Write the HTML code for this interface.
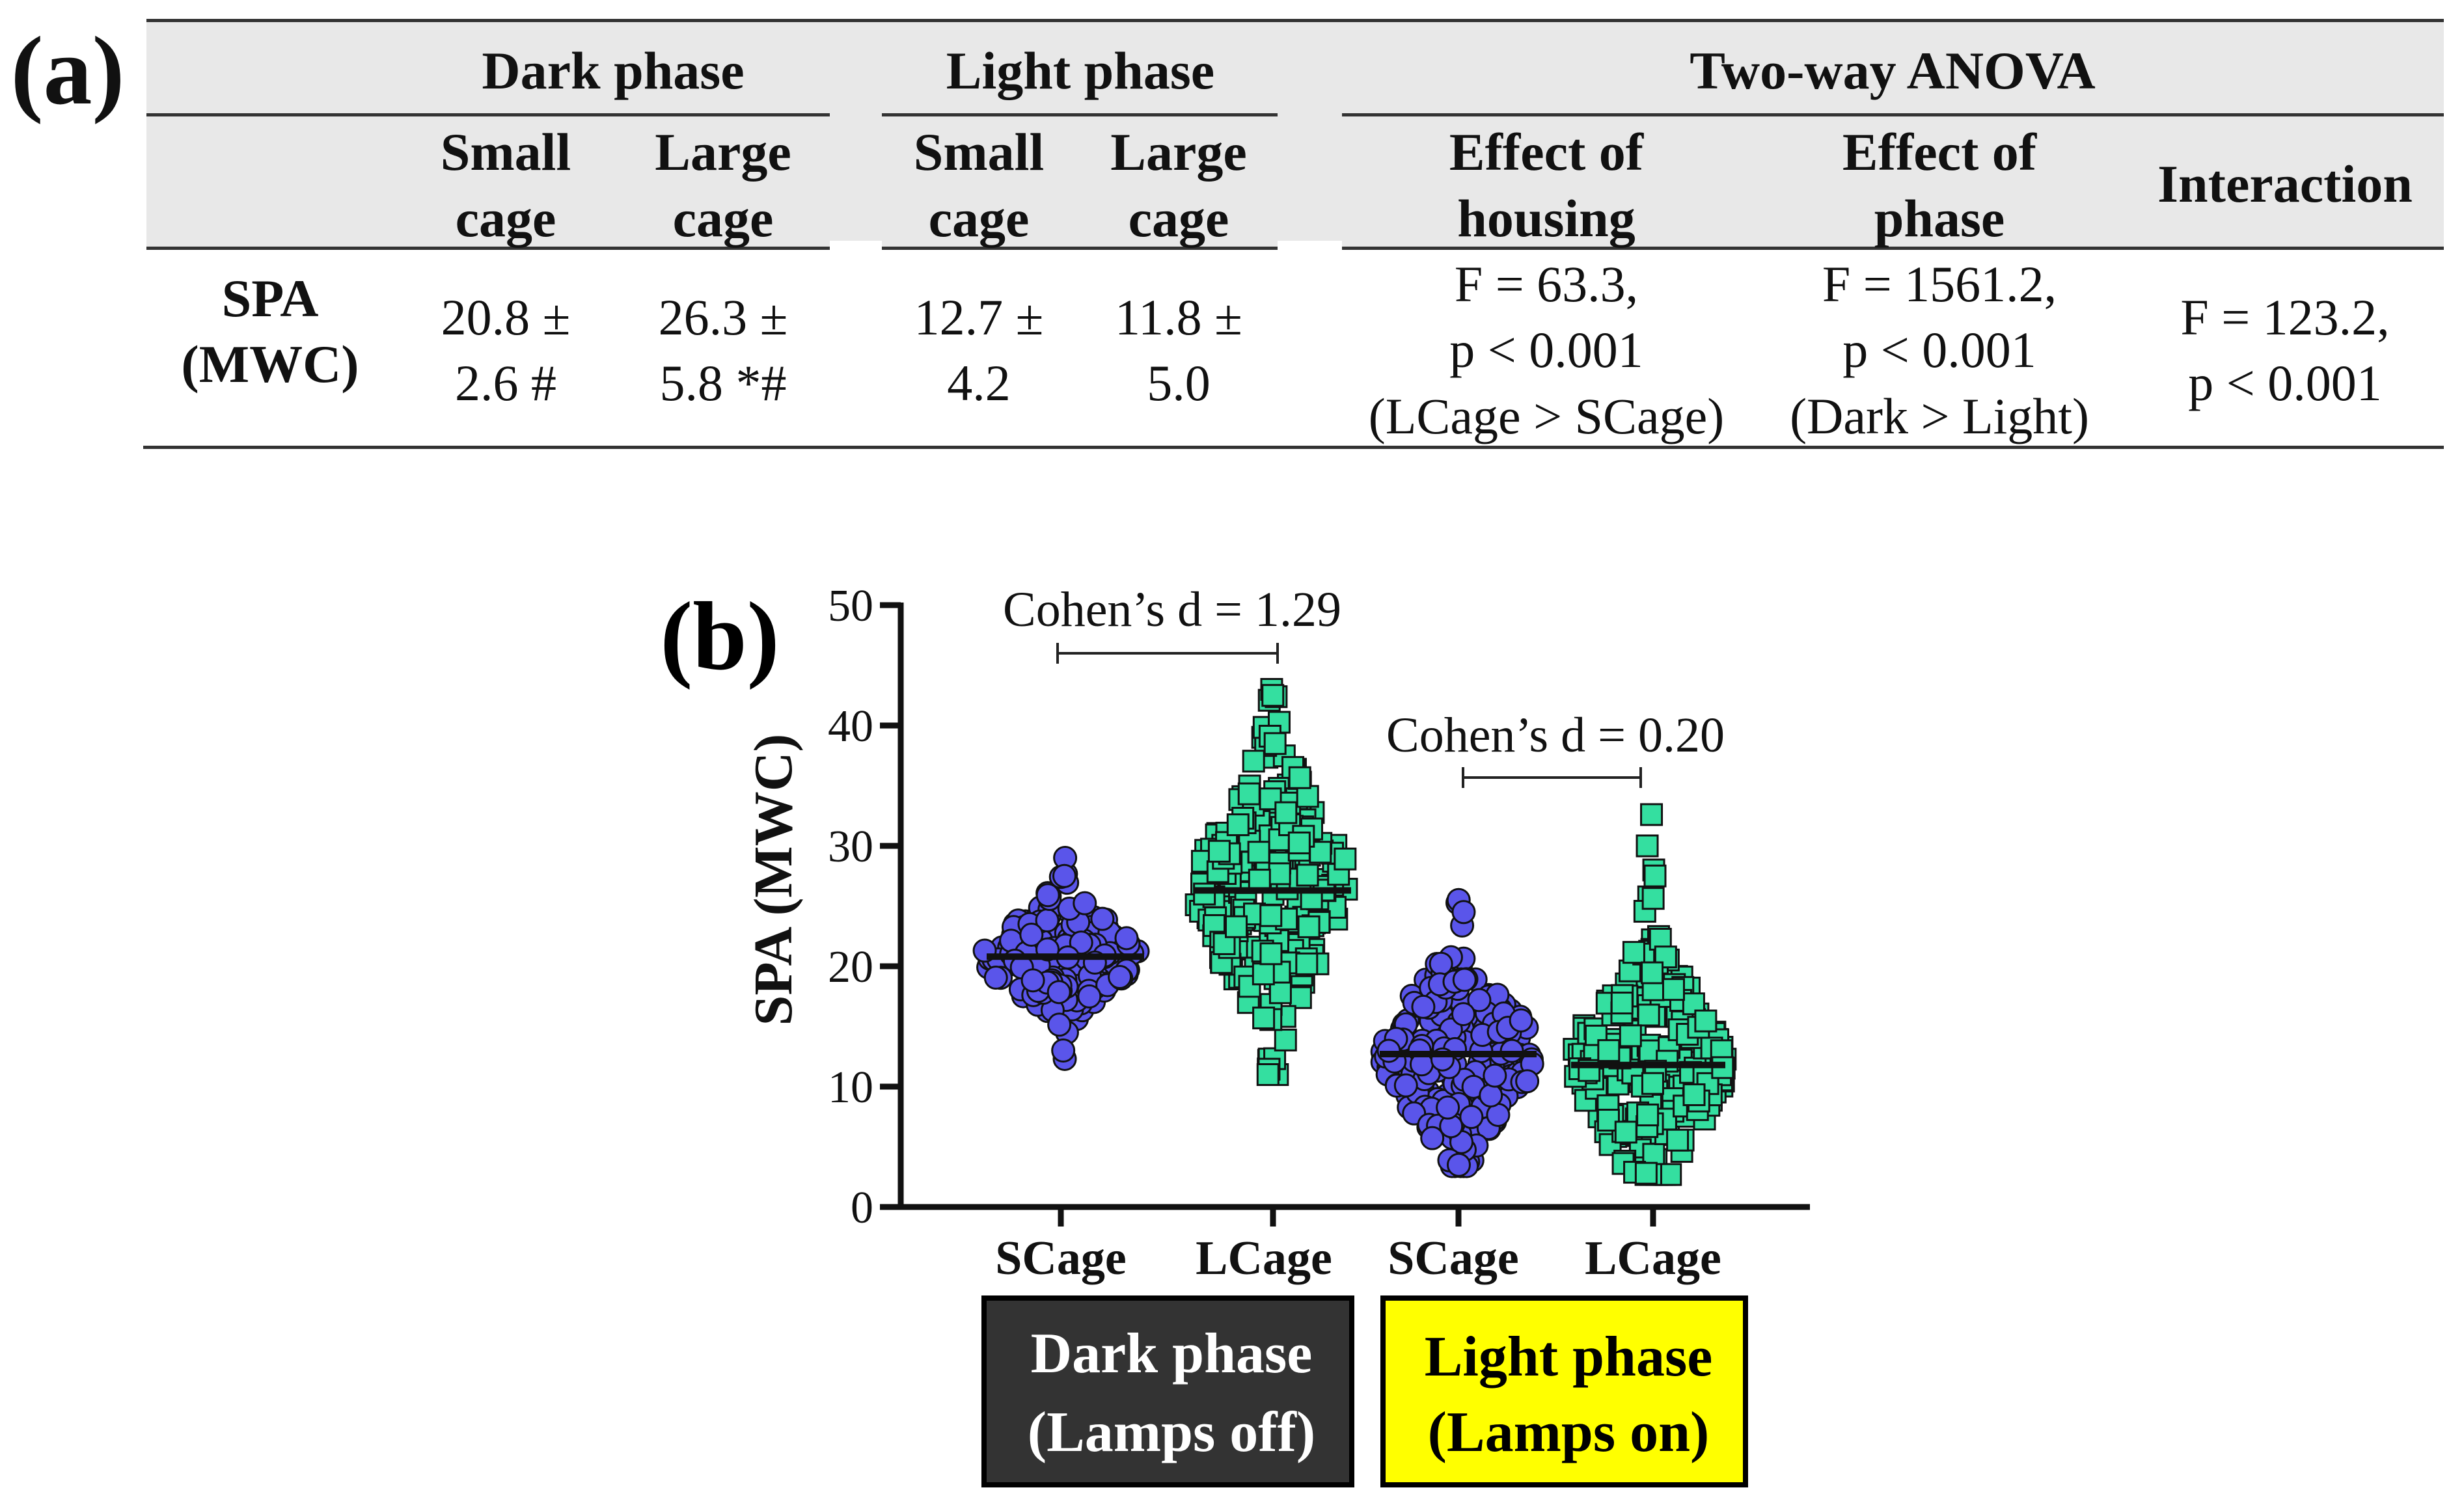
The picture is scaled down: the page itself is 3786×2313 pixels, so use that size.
<!DOCTYPE html>
<html><head><meta charset="utf-8"><style>
html,body{margin:0;padding:0;background:#fff}
body{width:3786px;height:2313px;position:relative;overflow:hidden;font-family:"Liberation Serif",serif;color:#111}
.t{position:absolute;transform:translate(-50%,-50%);white-space:nowrap;line-height:1}
.h{font-size:82px;font-weight:bold}
.v{font-size:78px}
.ln{position:absolute;background:#333}
</style></head><body>
<div style="position:absolute;left:225px;top:31px;width:3530px;height:350px;background:#e8e8e8"></div>
<div class="ln" style="left:225px;top:29px;width:3530px;height:5px"></div>
<div class="ln" style="left:225px;top:174px;width:1050px;height:5px"></div>
<div class="ln" style="left:1355px;top:174px;width:608px;height:5px"></div>
<div class="ln" style="left:2062px;top:174px;width:1693px;height:5px"></div>
<div style="position:absolute;left:1275px;top:370px;width:80px;height:14px;background:#fff"></div>
<div style="position:absolute;left:1963px;top:370px;width:99px;height:14px;background:#fff"></div>
<div class="ln" style="left:225px;top:379px;width:1050px;height:5px"></div>
<div class="ln" style="left:1355px;top:379px;width:608px;height:5px"></div>
<div class="ln" style="left:2062px;top:379px;width:1693px;height:5px"></div>
<div class="ln" style="left:220px;top:685px;width:3535px;height:5px"></div>

<div class="t" style="left:104px;top:109px;font-size:150px;font-weight:bold">(a)</div>
<div class="t h" style="left:942px;top:109px">Dark phase</div>
<div class="t h" style="left:1660px;top:109px">Light phase</div>
<div class="t h" style="left:2908px;top:109px">Two-way ANOVA</div>
<div class="t h" style="left:777px;top:234px">Small</div><div class="t h" style="left:777px;top:336px">cage</div>
<div class="t h" style="left:1111px;top:234px">Large</div><div class="t h" style="left:1111px;top:336px">cage</div>
<div class="t h" style="left:1504px;top:234px">Small</div><div class="t h" style="left:1504px;top:336px">cage</div>
<div class="t h" style="left:1811px;top:234px">Large</div><div class="t h" style="left:1811px;top:336px">cage</div>
<div class="t h" style="left:2376px;top:234px">Effect of</div><div class="t h" style="left:2376px;top:336px">housing</div>
<div class="t h" style="left:2980px;top:234px">Effect of</div><div class="t h" style="left:2980px;top:336px">phase</div>
<div class="t h" style="left:3511px;top:283px">Interaction</div>
<div class="t h" style="left:415px;top:459px">SPA</div><div class="t h" style="left:415px;top:560px">(MWC)</div>
<div class="t v" style="left:777px;top:488px">20.8 ±</div><div class="t v" style="left:777px;top:589px">2.6 #</div>
<div class="t v" style="left:1111px;top:488px">26.3 ±</div><div class="t v" style="left:1111px;top:589px">5.8 *#</div>
<div class="t v" style="left:1504px;top:488px">12.7 ±</div><div class="t v" style="left:1504px;top:589px">4.2</div>
<div class="t v" style="left:1811px;top:488px">11.8 ±</div><div class="t v" style="left:1811px;top:589px">5.0</div>
<div class="t v" style="left:2376px;top:437px">F = 63.3,</div><div class="t v" style="left:2376px;top:538px">p &lt; 0.001</div><div class="t v" style="left:2376px;top:640px">(LCage &gt; SCage)</div>
<div class="t v" style="left:2980px;top:437px">F = 1561.2,</div><div class="t v" style="left:2980px;top:538px">p &lt; 0.001</div><div class="t v" style="left:2980px;top:640px">(Dark &gt; Light)</div>
<div class="t v" style="left:3511px;top:488px">F = 123.2,</div><div class="t v" style="left:3511px;top:589px">p &lt; 0.001</div>

<svg id="plot" width="3786" height="2313" style="position:absolute;left:0;top:0" xmlns="http://www.w3.org/2000/svg">
<g id="pts"></g>
<g stroke="#111" stroke-width="9" fill="none">
<line x1="1384" y1="926" x2="1384" y2="1859"/>
<line x1="1352" y1="1855" x2="2781" y2="1855"/>
<line x1="1352" y1="930" x2="1384" y2="930"/>
<line x1="1352" y1="1115" x2="1384" y2="1115"/>
<line x1="1352" y1="1300" x2="1384" y2="1300"/>
<line x1="1352" y1="1485" x2="1384" y2="1485"/>
<line x1="1352" y1="1670" x2="1384" y2="1670"/>
<line x1="1630" y1="1855" x2="1630" y2="1885"/>
<line x1="1956" y1="1855" x2="1956" y2="1885"/>
<line x1="2241" y1="1855" x2="2241" y2="1885"/>
<line x1="2540" y1="1855" x2="2540" y2="1885"/>
</g>
<g stroke="#222" stroke-width="4">
<line x1="1625" y1="1004" x2="1963" y2="1004"/><line x1="1625" y1="988" x2="1625" y2="1020"/><line x1="1963" y1="988" x2="1963" y2="1020"/>
<line x1="2248" y1="1195" x2="2521" y2="1195"/><line x1="2248" y1="1179" x2="2248" y2="1211"/><line x1="2521" y1="1179" x2="2521" y2="1211"/>
</g>
<g font-family="Liberation Serif, serif" font-size="70" text-anchor="end" fill="#111">
<text x="1342" y="954">50</text><text x="1342" y="1139">40</text><text x="1342" y="1324">30</text>
<text x="1342" y="1509">20</text><text x="1342" y="1694">10</text><text x="1342" y="1879">0</text>
</g>
<g font-family="Liberation Serif, serif" font-size="76" text-anchor="middle" fill="#111">
<text x="1801" y="962">Cohen’s d = 1.29</text>
<text x="2390" y="1155">Cohen’s d = 0.20</text>
</g>
<g font-family="Liberation Serif, serif" font-size="74" font-weight="bold" text-anchor="middle" fill="#111">
<text x="1630" y="1958">SCage</text><text x="1942" y="1958">LCage</text>
<text x="2233" y="1958">SCage</text><text x="2540" y="1958">LCage</text>
<text font-size="84" transform="translate(1216,1352) rotate(-90)">SPA (MWC)</text>
</g>
<text x="1106" y="1028" font-family="Liberation Serif, serif" font-size="150" font-weight="bold" text-anchor="middle">(b)</text>
<rect x="1512" y="1995" width="565" height="287" fill="#333" stroke="#000" stroke-width="8"/>
<rect x="2125" y="1995" width="557" height="287" fill="#ffff00" stroke="#000" stroke-width="8"/>
<g font-family="Liberation Serif, serif" font-size="88" font-weight="bold" text-anchor="middle">
<text x="1800" y="2109" fill="#fff">Dark phase</text><text x="1800" y="2230" fill="#fff">(Lamps off)</text>
<text x="2410" y="2114" fill="#000">Light phase</text><text x="2410" y="2230" fill="#000">(Lamps on)</text>
</g>
<g id="means" stroke="#111" stroke-width="10"></g>
</svg>
<script>
(function(){
var s=12345;function r(){s=(s*1103515245+12345)%2147483648;return s/2147483648;}
function n(){return Math.sqrt(-2*Math.log(r()+1e-9))*Math.cos(2*Math.PI*r());}
function Y(v){return 1855-v*18.5;}
var g=document.getElementById('pts'),out='';
var G=[[1630,20.8,2.6,12,29.2,0,[29,27.5,12.3,13]],[1956,26.3,5.8,11,43,1,[43,42.5,38.5,11]],[2241,12.7,4.2,3.4,25.5,0,[25.5,24.5,3.5]],[2535,11.8,5.0,2.7,32.6,1,[32.6,30,28,27.5,2.8]]];
G.forEach(function(q){
 for(var i=0;i<230;i++){
  var v=q[1]+n()*q[2]; if(v<q[3]||v>q[4]){v=Math.max(q[3],Math.min(q[4],v));}
  var d=(v-q[1])/q[2];var hw=120*Math.exp(-d*d/2.6);
  var x=q[0]+(r()*2-1)*hw, y=Y(v);
  if(q[5]) out+='<rect x="'+(x-16)+'" y="'+(y-16)+'" width="32" height="32" fill="#34dfa0" stroke="#111" stroke-width="3"/>';
  else out+='<circle cx="'+x+'" cy="'+y+'" r="17" fill="#5a55ea" stroke="#111" stroke-width="3"/>';
 }
 q[6].forEach(function(v){var x=q[0]+(r()*2-1)*8,y=Y(v);
  if(q[5]) out+='<rect x="'+(x-16)+'" y="'+(y-16)+'" width="32" height="32" fill="#34dfa0" stroke="#111" stroke-width="3"/>';
  else out+='<circle cx="'+x+'" cy="'+y+'" r="17" fill="#5a55ea" stroke="#111" stroke-width="3"/>';});
});
g.innerHTML=out;
document.getElementById('means').innerHTML='<line x1="1516" y1="'+Y(20.8)+'" x2="1758" y2="'+Y(20.8)+'"/><line x1="1835" y1="'+Y(26.3)+'" x2="2076" y2="'+Y(26.3)+'"/><line x1="2120" y1="'+Y(12.7)+'" x2="2361" y2="'+Y(12.7)+'"/><line x1="2414" y1="'+Y(11.8)+'" x2="2651" y2="'+Y(11.8)+'"/>';
})();
</script>
</body></html>
